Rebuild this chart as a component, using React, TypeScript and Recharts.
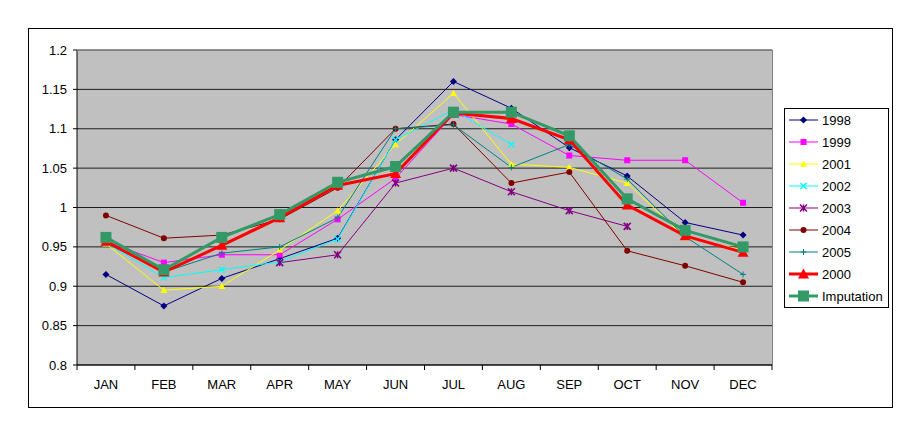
import { LineChart, Line, XAxis, YAxis, CartesianGrid } from "recharts";

const months = ["JAN", "FEB", "MAR", "APR", "MAY", "JUN", "JUL", "AUG", "SEP", "OCT", "NOV", "DEC"];
const yTicks = [0.8, 0.85, 0.9, 0.95, 1, 1.05, 1.1, 1.15, 1.2];

const s1998 = [0.915, 0.875, 0.91, 0.935, 0.961, 1.086, 1.16, 1.126, 1.076, 1.04, 0.981, 0.965];
const s1999 = [0.957, 0.93, 0.94, 0.94, 0.985, 1.037, 1.118, 1.106, 1.066, 1.06, 1.06, 1.006];
const s2001 = [0.954, 0.895, 0.9, 0.946, 0.996, 1.08, 1.145, 1.055, 1.051, 1.031, 0.962, 0.946];
const s2002 = [0.955, 0.911, 0.921, 0.931, 0.96, 1.086, 1.124, 1.08, null, null, null, null];
const s2003 = [null, null, null, 0.93, 0.94, 1.031, 1.05, 1.02, 0.996, 0.976, null, null];
const s2004 = [0.99, 0.961, 0.965, 0.985, 1.025, 1.1, 1.106, 1.031, 1.045, 0.945, 0.926, 0.905];
const s2005 = [0.955, 0.918, 0.942, 0.95, 0.987, 1.1, 1.105, 1.051, 1.08, 1.036, 0.963, 0.915];
const s2000 = [0.957, 0.918, 0.952, 0.987, 1.028, 1.043, 1.12, 1.113, 1.086, 1.003, 0.964, 0.943];
const sImputation = [0.962, 0.921, 0.962, 0.991, 1.032, 1.052, 1.121, 1.121, 1.091, 1.011, 0.971, 0.95];

const data = months.map((m, i) => ({
  month: m,
  y1998: s1998[i],
  y1999: s1999[i],
  y2001: s2001[i],
  y2002: s2002[i],
  y2003: s2003[i],
  y2004: s2004[i],
  y2005: s2005[i],
  y2000: s2000[i],
  imputation: sImputation[i],
}));

type Shape = "diamond" | "square" | "triangle" | "x" | "star" | "circle" | "plus";

const series: { key: string; name: string; color: string; width: number; shape: Shape; size: number }[] = [
  { key: "y1998", name: "1998", color: "#000080", width: 1, shape: "diamond", size: 3.5 },
  { key: "y1999", name: "1999", color: "#FF00FF", width: 1, shape: "square", size: 3 },
  { key: "y2001", name: "2001", color: "#FFFF00", width: 1, shape: "triangle", size: 3.5 },
  { key: "y2002", name: "2002", color: "#00FFFF", width: 1, shape: "x", size: 3 },
  { key: "y2003", name: "2003", color: "#800080", width: 1, shape: "star", size: 3.5 },
  { key: "y2004", name: "2004", color: "#800000", width: 1, shape: "circle", size: 3 },
  { key: "y2005", name: "2005", color: "#008080", width: 1, shape: "plus", size: 3 },
  { key: "y2000", name: "2000", color: "#FF0000", width: 3, shape: "triangle", size: 5.5 },
  { key: "imputation", name: "Imputation", color: "#339966", width: 3, shape: "square", size: 5.5 },
];

const FONT = "'Liberation Sans', Arial, sans-serif";
const HALF_BAND = 695 / 12 / 2;

function Marker({ cx, cy, shape, size, color }: { cx: number; cy: number; shape: Shape; size: number; color: string }) {
  const s = size;
  switch (shape) {
    case "diamond":
      return <polygon points={`${cx},${cy - s} ${cx + s},${cy} ${cx},${cy + s} ${cx - s},${cy}`} fill={color} />;
    case "square":
      return <rect x={cx - s} y={cy - s} width={2 * s} height={2 * s} fill={color} />;
    case "triangle":
      return <polygon points={`${cx},${cy - s} ${cx + s},${cy + s * 0.8} ${cx - s},${cy + s * 0.8}`} fill={color} />;
    case "circle":
      return <circle cx={cx} cy={cy} r={s} fill={color} />;
    case "x":
      return (
        <g stroke={color} strokeWidth={1.5}>
          <line x1={cx - s} y1={cy - s} x2={cx + s} y2={cy + s} />
          <line x1={cx - s} y1={cy + s} x2={cx + s} y2={cy - s} />
        </g>
      );
    case "star":
      return (
        <g stroke={color} strokeWidth={1.5}>
          <line x1={cx - s} y1={cy - s} x2={cx + s} y2={cy + s} />
          <line x1={cx - s} y1={cy + s} x2={cx + s} y2={cy - s} />
          <line x1={cx} y1={cy - s} x2={cx} y2={cy + s} />
        </g>
      );
    case "plus":
      return (
        <g stroke={color} strokeWidth={1}>
          <line x1={cx - s} y1={cy} x2={cx + s} y2={cy} />
          <line x1={cx} y1={cy - s} x2={cx} y2={cy + s} />
        </g>
      );
  }
  return null;
}

function makeDot(key: string, shape: Shape, size: number, color: string) {
  return (props: any) => {
    const { cx, cy, index, value } = props;
    if (cx == null || cy == null || value == null) return <g key={`${key}-${index}`} />;
    return (
      <g key={`${key}-${index}`}>
        <Marker cx={cx} cy={cy} shape={shape} size={size} color={color} />
      </g>
    );
  };
}

function XTick(props: any) {
  const { x, y, payload, index } = props;
  return (
    <g>
      <line x1={x - HALF_BAND} y1={y} x2={x - HALF_BAND} y2={y + 5} stroke="#000" />
      {index === months.length - 1 && <line x1={x + HALF_BAND} y1={y} x2={x + HALF_BAND} y2={y + 5} stroke="#000" />}
      <text x={x} y={y + 23.5} textAnchor="middle" fontSize={13} fontFamily={FONT} fill="#000">
        {payload.value}
      </text>
    </g>
  );
}

function ChartLegend() {
  return (
    <div
      style={{
        position: "absolute",
        left: 784,
        top: 108,
        width: 105,
        height: 200,
        boxSizing: "border-box",
        border: "1px solid #000",
        background: "#fff",
      }}
    >
      <svg width={103} height={198} style={{ display: "block" }}>
        {series.map((s, i) => {
          const cy = 11 + i * 22;
          return (
            <g key={s.key}>
              <line x1={4} y1={cy} x2={33} y2={cy} stroke={s.color} strokeWidth={s.width} />
              <Marker cx={18.5} cy={cy} shape={s.shape} size={s.size} color={s.color} />
              <text x={37} y={cy + 4.5} fontSize={13} fontFamily={FONT} fill="#000">
                {s.name}
              </text>
            </g>
          );
        })}
      </svg>
    </div>
  );
}

export default function App() {
  return (
    <div style={{ position: "absolute", left: 0, top: 0, width: 920, height: 427, background: "#fff" }}>
      <div
        style={{
          position: "absolute",
          left: 28,
          top: 28,
          width: 865,
          height: 380,
          boxSizing: "border-box",
          border: "1px solid #000",
        }}
      />
      <div style={{ position: "absolute", left: 0, top: 0 }}>
        <LineChart width={920} height={427} data={data} margin={{ top: 50, right: 148, bottom: 32, left: 37 }}>
          <CartesianGrid horizontal vertical={false} fill="#C0C0C0" stroke="#000" strokeOpacity={0.85} />
          <XAxis
            dataKey="month"
            padding={{ left: HALF_BAND, right: HALF_BAND }}
            axisLine={{ stroke: "#000" }}
            tickLine={false}
            tickSize={0}
            tickMargin={0}
            height={30}
            interval={0}
            tick={(p: any) => <XTick {...p} />}
          />
          <YAxis
            domain={[0.8, 1.2]}
            ticks={yTicks}
            interval={0}
            width={40}
            axisLine={{ stroke: "#000" }}
            tickLine={{ stroke: "#000" }}
            tickSize={4}
            tickMargin={6}
            tick={{ fontSize: 13, fill: "#000", fontFamily: FONT }}
            allowDataOverflow
          />
          {series.map((s) => (
            <Line
              key={s.key}
              type="linear"
              dataKey={s.key}
              name={s.name}
              stroke={s.color}
              strokeWidth={s.width}
              dot={makeDot(s.key, s.shape, s.size, s.color)}
              activeDot={false}
              isAnimationActive={false}
              connectNulls={false}
            />
          ))}
        </LineChart>
      </div>
      <div
        style={{
          position: "absolute",
          left: 77,
          top: 50,
          width: 696,
          height: 316,
          boxSizing: "border-box",
          borderTop: "1px solid #808080",
          borderRight: "1px solid #808080",
          pointerEvents: "none",
        }}
      />
      <ChartLegend />
    </div>
  );
}
